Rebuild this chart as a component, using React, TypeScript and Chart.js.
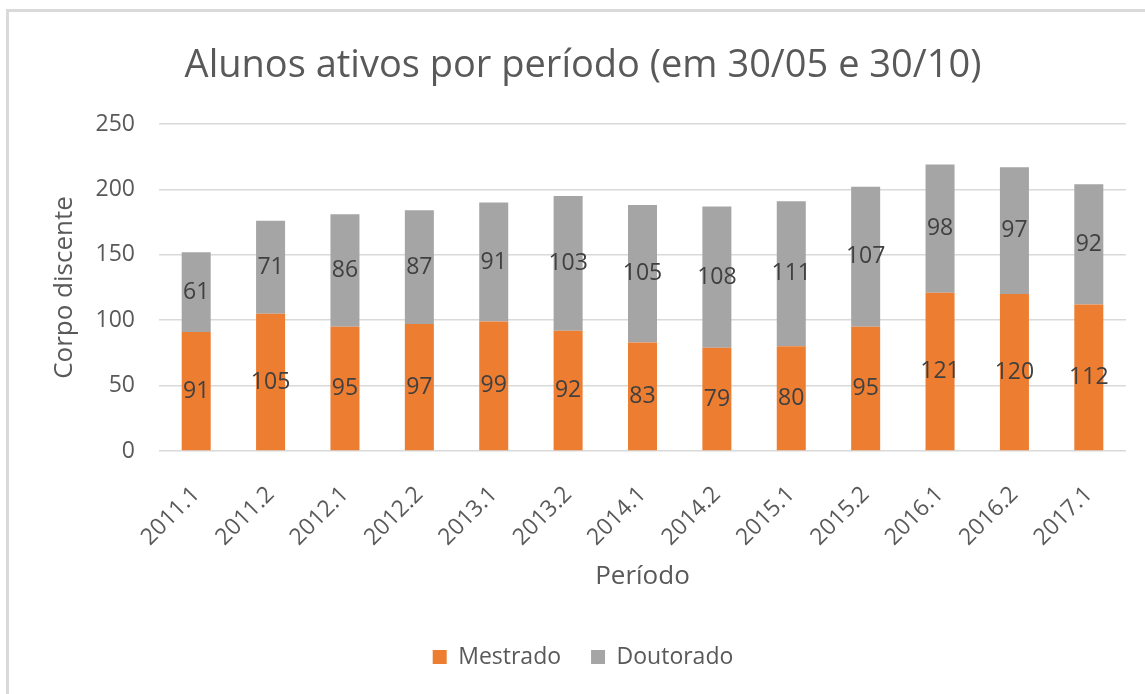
import React, { useEffect, useRef } from "react";
import { Chart, registerables } from "chart.js";

Chart.register(...registerables);

const periods = ["2011.1", "2011.2", "2012.1", "2012.2", "2013.1", "2013.2", "2014.1", "2014.2", "2015.1", "2015.2", "2016.1", "2016.2", "2017.1"];
const mestrado = [91, 105, 95, 97, 99, 92, 83, 79, 80, 95, 121, 120, 112];
const doutorado = [61, 71, 86, 87, 91, 103, 105, 108, 111, 107, 98, 97, 92];

const FONT = "'Open Sans', sans-serif";
const TEXT = "#595959";

const segmentLabels = {
  id: "segmentLabels",
  afterDatasetsDraw(chart: any) {
    const ctx = chart.ctx;
    ctx.save();
    ctx.font = `23px ${FONT}`;
    ctx.fillStyle = "#404040";
    ctx.textAlign = "center";
    ctx.textBaseline = "middle";
    chart.data.datasets.forEach((ds: any, di: number) => {
      const meta = chart.getDatasetMeta(di);
      meta.data.forEach((el: any, i: number) => {
        const y = (el.y + el.base) / 2;
        ctx.fillText(String(ds.data[i]), el.x, y);
      });
    });
    ctx.restore();
  },
};

export default function App() {
  const ref = useRef<HTMLCanvasElement>(null);
  useEffect(() => {
    if (!ref.current) return;
    const chart = new Chart(ref.current, {
      type: "bar",
      data: {
        labels: periods,
        datasets: [
          { label: "Mestrado", data: mestrado, backgroundColor: "#ED7D31", barPercentage: 0.39, categoryPercentage: 1 },
          { label: "Doutorado", data: doutorado, backgroundColor: "#A5A5A5", barPercentage: 0.39, categoryPercentage: 1 },
        ],
      },
      options: {
        animation: false,
        responsive: false,
        layout: { padding: { left: 40, right: 19, top: 0, bottom: 15.5 } },
        plugins: {
          title: {
            display: true,
            text: "Alunos ativos por período (em 30/05 e 30/10)",
            color: TEXT,
            font: { family: FONT, size: 38, weight: "normal" },
            padding: { top: 43, bottom: 35.4 },
          },
          legend: {
            position: "bottom",
            labels: {
              color: TEXT,
              font: { family: FONT, size: 23 },
              boxWidth: 14,
              boxHeight: 14,
              padding: 30,
            },
          },
          tooltip: { enabled: false },
        },
        scales: {
          x: {
            stacked: true,
            grid: { display: false },
            border: { display: false },
            ticks: {
              color: TEXT,
              font: { family: FONT, size: 23 },
              maxRotation: 45,
              minRotation: 45,
              padding: 22,
            },
            title: {
              display: true,
              text: "Período",
              color: TEXT,
              font: { family: FONT, size: 26 },
              padding: { top: 0, bottom: 23 },
            },
            afterFit: (s: any) => { s.height = 164.5; },
          },
          y: {
            stacked: true,
            min: 0,
            max: 250,
            grid: { color: "#D9D9D9", lineWidth: 1.5, drawTicks: false },
            border: { display: false },
            ticks: {
              stepSize: 50,
              color: TEXT,
              font: { family: FONT, size: 23 },
              padding: 24,
            },
            title: {
              display: true,
              text: "Corpo discente",
              color: TEXT,
              font: { family: FONT, size: 26 },
              padding: { top: 9, bottom: 0 },
            },
            afterFit: (s: any) => { s.width = 119; },
          },
        },
      },
      plugins: [segmentLabels],
    });
    return () => chart.destroy();
  }, []);

  return (
    <div style={{ position: "absolute", left: 0, top: 0, width: 1145, height: 694, background: "#fff", overflow: "hidden" }}>
      <div
        style={{
          position: "absolute",
          left: 6,
          top: 9,
          width: 1200,
          height: 800,
          borderTop: "3px solid #DADADA",
          borderLeft: "3px solid #DADADA",
        }}
      />
      <canvas ref={ref} width={1145} height={694} style={{ position: "absolute", left: 0, top: 0 }} />
    </div>
  );
}
